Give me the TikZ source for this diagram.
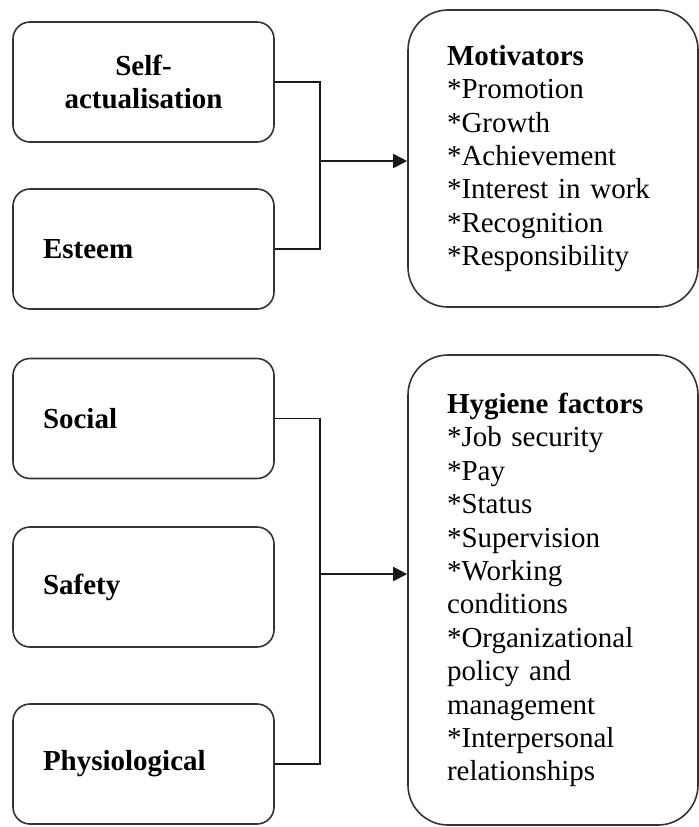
\documentclass[tikz,border=0pt]{standalone}
\usepackage{fontspec}
\setmainfont{Liberation Serif}
\usetikzlibrary{positioning, calc, arrows.meta}

\begin{document}
\begin{tikzpicture}[x=0.5pt, y=-0.5pt]
        \tikzstyle{level}=[draw=black!80, line width=0.8pt, rounded corners=8.5pt, minimum width=130.5pt, minimum height=60pt, inner xsep=15pt, text width=100.5pt, align=left, font=\fontsize{14.5}{16.5}\selectfont\bfseries];
        \tikzstyle{factor}=[draw=black!80, line width=0.8pt, rounded corners=20pt, minimum width=145pt, inner xsep=19.5pt, text width=106pt, align=left, font=\fontsize{14.5}{16.7}\selectfont];
        \tikzstyle{wire}=[line width=0.85pt, black!90];

        \useasboundingbox (0, 0) rectangle (699, 827);

        \node[level, align=center] (self) at (143.5, 82) {Self-\\actualisation};
        \node[level] (esteem) at (143.5, 249) {Esteem};

        \node[level] (social) at (143.5, 418.5) {Social};
        \node[level] (safety) at (143.5, 587) {Safety};
        \node[level] (physio) at (143.5, 764) {Physiological};

        \node[factor, minimum height=148.5pt] (mot) at (553, 158.5) {\textbf{Motivators}\\{*}Promotion\\{*}Growth\\{*}Achievement\\{*}Interest in work\\{*}Recognition\\{*}Responsibility};
        \node[factor, minimum height=235pt] (hyg) at (553, 590) {\textbf{Hygiene factors}\\{*}Job security\\{*}Pay\\{*}Status\\{*}Supervision\\{*}Working\\conditions\\{*}Organizational\\policy and\\management\\{*}Interpersonal\\relationships};

        \coordinate (j1) at (320, 161);
        \coordinate (j2) at (320, 574);

        \draw[wire] (self.east) -| (j1) |- (esteem.east);
        \draw[wire, -{Triangle[length=7pt, width=7pt]}] (j1) -- (j1 -| mot.west);

        \draw[wire] (social.east) -| (j2) |- (physio.east);
        \draw[wire, -{Triangle[length=7pt, width=7pt]}] (j2) -- (j2 -| hyg.west);
\end{tikzpicture}
\end{document}
